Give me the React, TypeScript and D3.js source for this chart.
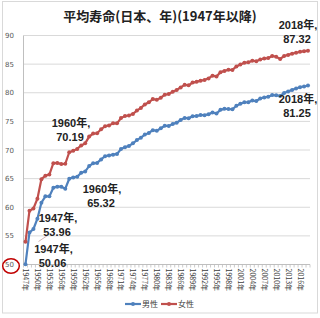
import React from "react";
import * as d3 from "d3";

const years: number[] = Array.from({ length: 72 }, (_, i) => 1947 + i);
const male: number[] = [
  50.06, 55.6, 56.2, 58.0, 60.8, 61.9, 61.9, 63.41, 63.6, 63.59, 63.24, 64.98, 65.21, 65.32,
  66.03, 66.23, 67.21, 67.67, 67.74, 68.35, 68.91, 69.05, 69.18, 69.31, 70.17, 70.5, 70.7,
  71.16, 71.73, 72.15, 72.69, 72.97, 73.46, 73.35, 73.79, 74.22, 74.2, 74.54, 74.78, 75.23,
  75.61, 75.54, 75.91, 75.92, 76.11, 76.09, 76.25, 76.57, 76.38, 77.01, 77.19, 77.16, 77.1,
  77.72, 78.07, 78.32, 78.36, 78.64, 78.56, 79.0, 79.19, 79.29, 79.59, 79.55, 79.44, 79.94,
  80.21, 80.5, 80.75, 80.98, 81.09, 81.25,
];
const female: number[] = [
  53.96, 59.4, 59.8, 61.5, 64.9, 65.5, 65.7, 67.69, 67.75, 67.54, 67.6, 69.61, 69.88, 70.19,
  70.79, 71.16, 72.34, 72.87, 72.92, 73.61, 74.15, 74.3, 74.67, 74.66, 75.58, 75.94, 76.02,
  76.31, 76.89, 77.35, 77.95, 78.33, 78.89, 78.76, 79.13, 79.66, 79.78, 80.18, 80.48, 80.93,
  81.39, 81.3, 81.77, 81.9, 82.11, 82.22, 82.51, 82.98, 82.85, 83.59, 83.82, 84.01, 83.99,
  84.6, 84.93, 85.23, 85.33, 85.59, 85.52, 85.81, 85.99, 86.05, 86.44, 86.3, 85.9, 86.41,
  86.61, 86.83, 86.99, 87.14, 87.26, 87.32,
];
const yTicks: number[] = [50, 55, 60, 65, 70, 75, 80, 85, 90];
const xLabelYears: number[] = years.filter((y) => (y - 1947) % 3 === 0);
const seriesNames: string[] = ["男性", "女性"];
const title = "平均寿命(日本、年)(1947年以降)";

const BLUE = "#4f81bd";
const RED = "#c0504d";
const FONT = "'Noto Sans CJK JP', 'DejaVu Sans', sans-serif";
const LABEL_FONT = "'Liberation Sans', 'Noto Sans CJK JP', sans-serif";

export default function App() {
  const W = 320, H = 318;
  const left = 23.5, right = 310, top = 35.5, bottom = 264.5;
  const x = d3.scaleBand<number>().domain(years).range([left, right]);
  const cx = (yr: number) => (x(yr) as number) + x.bandwidth() / 2;
  const y = d3.scaleLinear().domain([50, 90]).range([bottom, top]);
  const line = d3
    .line<number>()
    .x((_, i) => cx(years[i]))
    .y((d) => y(d));

  const series = [
    { name: seriesNames[0], data: male, color: BLUE },
    { name: seriesNames[1], data: female, color: RED },
  ];

  const labels = [
    { yr: 2018, v: female[71], lx: 298, ly: 29 },
    { yr: 2018, v: male[71], lx: 298, ly: 103 },
    { yr: 1960, v: female[13], lx: 71, ly: 127 },
    { yr: 1960, v: male[13], lx: 102, ly: 193 },
    { yr: 1947, v: female[0], lx: 58, ly: 222 },
    { yr: 1947, v: male[0], lx: 53.5, ly: 253 },
  ];

  return (
    <svg
      width={W}
      height={H}
      style={{ position: "absolute", left: 0, top: 0, background: "#fff" }}
      fontFamily={FONT}
    >
      <rect x={0} y={0} width={W} height={H} fill="#fff" />
      <rect x={2.5} y={1.5} width={315} height={311.5} fill="#fff" stroke="#d9d9d9" strokeWidth={1} />
      <text x={160} y={20.5} textAnchor="middle" fontSize={13} fontWeight="bold" fill="#222">
        {title}
      </text>
      {yTicks.map((t) => (
        <g key={t}>
          <line x1={left} x2={right} y1={y(t)} y2={y(t)} stroke="#d9d9d9" strokeWidth={1} />
          <text x={14} y={y(t) + 2.5} textAnchor="end" fontSize={7} fill="#595959" fontFamily="'DejaVu Sans', sans-serif">
            {t}
          </text>
        </g>
      ))}
      <line x1={left} x2={left} y1={top} y2={bottom} stroke="#bfbfbf" strokeWidth={1} />
      <line x1={left} x2={right} y1={bottom} y2={bottom} stroke="#bfbfbf" strokeWidth={1} />
      {years.concat([2019]).map((yr, i) => {
        const xx = i < years.length ? (x(yr) as number) : right;
        return <line key={"t" + yr} x1={xx} x2={xx} y1={bottom} y2={bottom + 3} stroke="#bfbfbf" strokeWidth={0.8} />;
      })}
      {xLabelYears.map((yr) => (
        <text
          key={"l" + yr}
          transform={`translate(${cx(yr) - 2.5},${bottom + 4}) rotate(90)`}
          fontSize={7}
          fill="#404040"
        >
          {yr + "年"}
        </text>
      ))}
      <ellipse cx={11} cy={266} rx={8.3} ry={7.2} fill="none" stroke="#c00000" strokeWidth={1.5} />
      {series.map((s) => (
        <g key={s.name}>
          <path d={line(s.data) || ""} fill="none" stroke={s.color} strokeWidth={2.2} />
          {s.data.map((v, i) => (
            <circle key={i} cx={cx(years[i])} cy={y(v)} r={2} fill={s.color} />
          ))}
        </g>
      ))}
      <line x1={38.5} y1={241.5} x2={47} y2={235.8} stroke="#c8a0a0" strokeWidth={0.8} />
      {labels.map((l, i) => (
        <g key={"d" + i} fontSize={11} fontWeight="bold" fill="#222" textAnchor="middle" fontFamily={LABEL_FONT}>
          <text x={l.lx} y={l.ly}>{l.yr + "年,"}</text>
          <text x={l.lx - 1} y={l.ly + 14}>{l.v.toFixed(2)}</text>
        </g>
      ))}
      {series.map((s, i) => {
        const lx = 125 + i * 36;
        return (
          <g key={"lg" + s.name}>
            <line x1={lx} x2={lx + 16} y1={304} y2={304} stroke={s.color} strokeWidth={2.2} />
            <circle cx={lx + 8} cy={304} r={2} fill={s.color} />
            <text x={lx + 17} y={307} fontSize={8} fill="#404040">
              {s.name}
            </text>
          </g>
        );
      })}
    </svg>
  );
}
